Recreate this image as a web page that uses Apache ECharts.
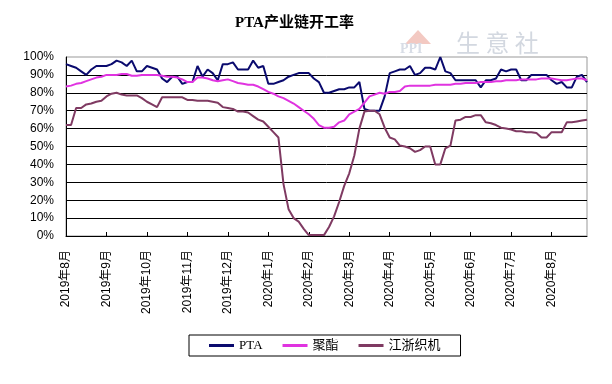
<!DOCTYPE html>
<html><head><meta charset="utf-8">
<script src="https://cdn.jsdelivr.net/npm/echarts@6/dist/echarts.min.js"></script>
<style>html,body{margin:0;padding:0;background:#fff}#c{width:612px;height:384px}</style>
</head><body><div id="c"></div>
<script>
// month tick labels (one every 8 points)
const monthLabels = ['2019年8月','2019年9月','2019年10月','2019年11月','2019年12月','2020年1月','2020年2月','2020年3月','2020年4月','2020年5月','2020年6月','2020年7月','2020年8月'];
const pointsPerMonth = 8;
const seriesNames = ['PTA','聚酯','江浙织机'];
const pta = [96,95,94,92,90,93,95,95,95,96,98,97,95,98,92,92,95,94,93,88,86,89,89,85,86,86,
  95,89,93,91,87,96,96,97,93,93,93,98,94,95,85,85,86,87,89,90,91,91,91,88,86,80,
  80,81,82,82,83,83,86,71,70,70,70,78,91,92,93,93,95,90,91,94,94,93,100,92,
  91,87,87,87,87,87,83,87,87,88,93,92,93,93,87,87,90,90,90,90,87,85,86,83,83,89,90,86];
const polyester = [83.5,84,85,85.5,86.5,87.5,88.5,89,90,90,90,90.5,90.5,89.5,89.5,90,90,90,90,89.5,89,89,88.5,87.5,86,86,
  88.5,88.5,88,87,86.5,87,87.5,86.5,85.5,85,84.5,84.5,83.5,82,80.5,79.5,78,77,75.5,74,72,70,68,65.5,62,60.5,
  60.5,61,63.5,64.5,68,69.5,71,74.5,78,79,80,79.5,80.5,80.5,81,83.5,84,84,84,84,84,84.5,84.5,84.5,
  84.5,85,85,85.5,85.5,85.5,86,86,86,86.5,86.5,87,87,87,87.5,87.5,87.5,87.5,88,88,88,87.5,87,87,87.5,88,88,87];
const loom = [62,62,71.5,71.5,73.5,74,75,75.5,78,79.5,80,79,78.5,78.5,78.5,77,75,73.5,72,77.5,77.5,77.5,77.5,77.5,76,76,
  75.5,75.5,75.5,75,74.5,72,71.5,71,69.5,69.5,69,67,65,64,61,58,55,29,15,10,8,4,0.5,0.5,0.5,0.5,
  5,11,19,28,35,45,60,69.5,70,70,68,60.5,55,54,50.5,50,49,47,48,50,50,40,40,49,
  50.5,64.5,65,66.5,66.5,67.5,67.5,63.5,63,62,60.5,60,59.5,58.5,58.5,58,58,57.5,55,55,58,58,58,63.5,63.5,64,64.5,65];
const yTicks = {min: 0, max: 100, interval: 10};

const categories = [];
monthLabels.forEach(m => { categories.push(m); for (let j = 2; j <= pointsPerMonth; j++) categories.push(m + '#' + j); });

const chart = echarts.init(document.getElementById('c'), null, {renderer: 'canvas'});
const font = '"Liberation Sans", "Noto Sans CJK SC", sans-serif';
chart.setOption({
  animation: false,
  backgroundColor: '#fff',
  title: {
    text: 'PTA产业链开工率', left: 230, top: 11,
    textStyle: {fontSize: 15, fontWeight: 'bold', color: '#000', fontFamily: '"Liberation Serif", "Noto Sans CJK SC", serif'}
  },
  graphic: [
    {type: 'polygon', shape: {points: [[405, 44], [418, 30], [431, 44]]}, style: {fill: '#f3c9c2'}, z: 0},
    {type: 'text', left: 400, top: 42, style: {text: 'PPI', fill: '#d8dde6', font: 'bold 14px "Liberation Serif"'}, z: 0},
    {type: 'text', left: 456, top: 31, style: {text: '生 意 社', fill: '#d3d8e0', font: '24px "Noto Sans CJK SC"'}, z: 0}
  ],
  grid: {left: 66, right: 25, top: 57, bottom: 148, show: true, borderColor: '#999', borderWidth: 1, backgroundColor: 'transparent'},
  legend: {
    data: seriesNames, left: 189, top: 335,
    icon: 'rect', itemWidth: 25, itemHeight: 3, itemGap: 20,
    borderColor: '#000', borderWidth: 1, padding: [4, 20, 4, 20],
    textStyle: {fontSize: 13, color: '#000', fontFamily: '"Liberation Serif", "Noto Sans CJK SC", serif'}
  },
  xAxis: {
    type: 'category', data: categories, boundaryGap: false,
    axisLine: {lineStyle: {color: '#000', width: 1}},
    axisTick: {interval: pointsPerMonth - 1, inside: true, length: 4, lineStyle: {color: '#000'}},
    axisLabel: {interval: pointsPerMonth - 1, rotate: 90, margin: 14, fontSize: 12, color: '#000', fontFamily: font},
    splitLine: {show: false}
  },
  yAxis: {
    type: 'value', min: yTicks.min, max: yTicks.max, interval: yTicks.interval,
    axisLine: {show: true, lineStyle: {color: '#000', width: 1}},
    axisTick: {show: false},
    axisLabel: {formatter: '{value}%', fontSize: 12, color: '#000', margin: 12, fontFamily: font},
    splitLine: {show: true, showMaxLine: false, lineStyle: {color: '#000', width: 1}}
  },
  series: [
    {name: seriesNames[0], type: 'line', data: pta, showSymbol: false, lineStyle: {width: 2, color: '#0a0a6e'}, itemStyle: {color: '#0a0a6e'}},
    {name: seriesNames[1], type: 'line', data: polyester, showSymbol: false, lineStyle: {width: 2, color: '#e033e0'}, itemStyle: {color: '#e033e0'}},
    {name: seriesNames[2], type: 'line', data: loom, showSymbol: false, lineStyle: {width: 2, color: '#7f3a62'}, itemStyle: {color: '#7f3a62'}}
  ]
});
</script></body></html>
